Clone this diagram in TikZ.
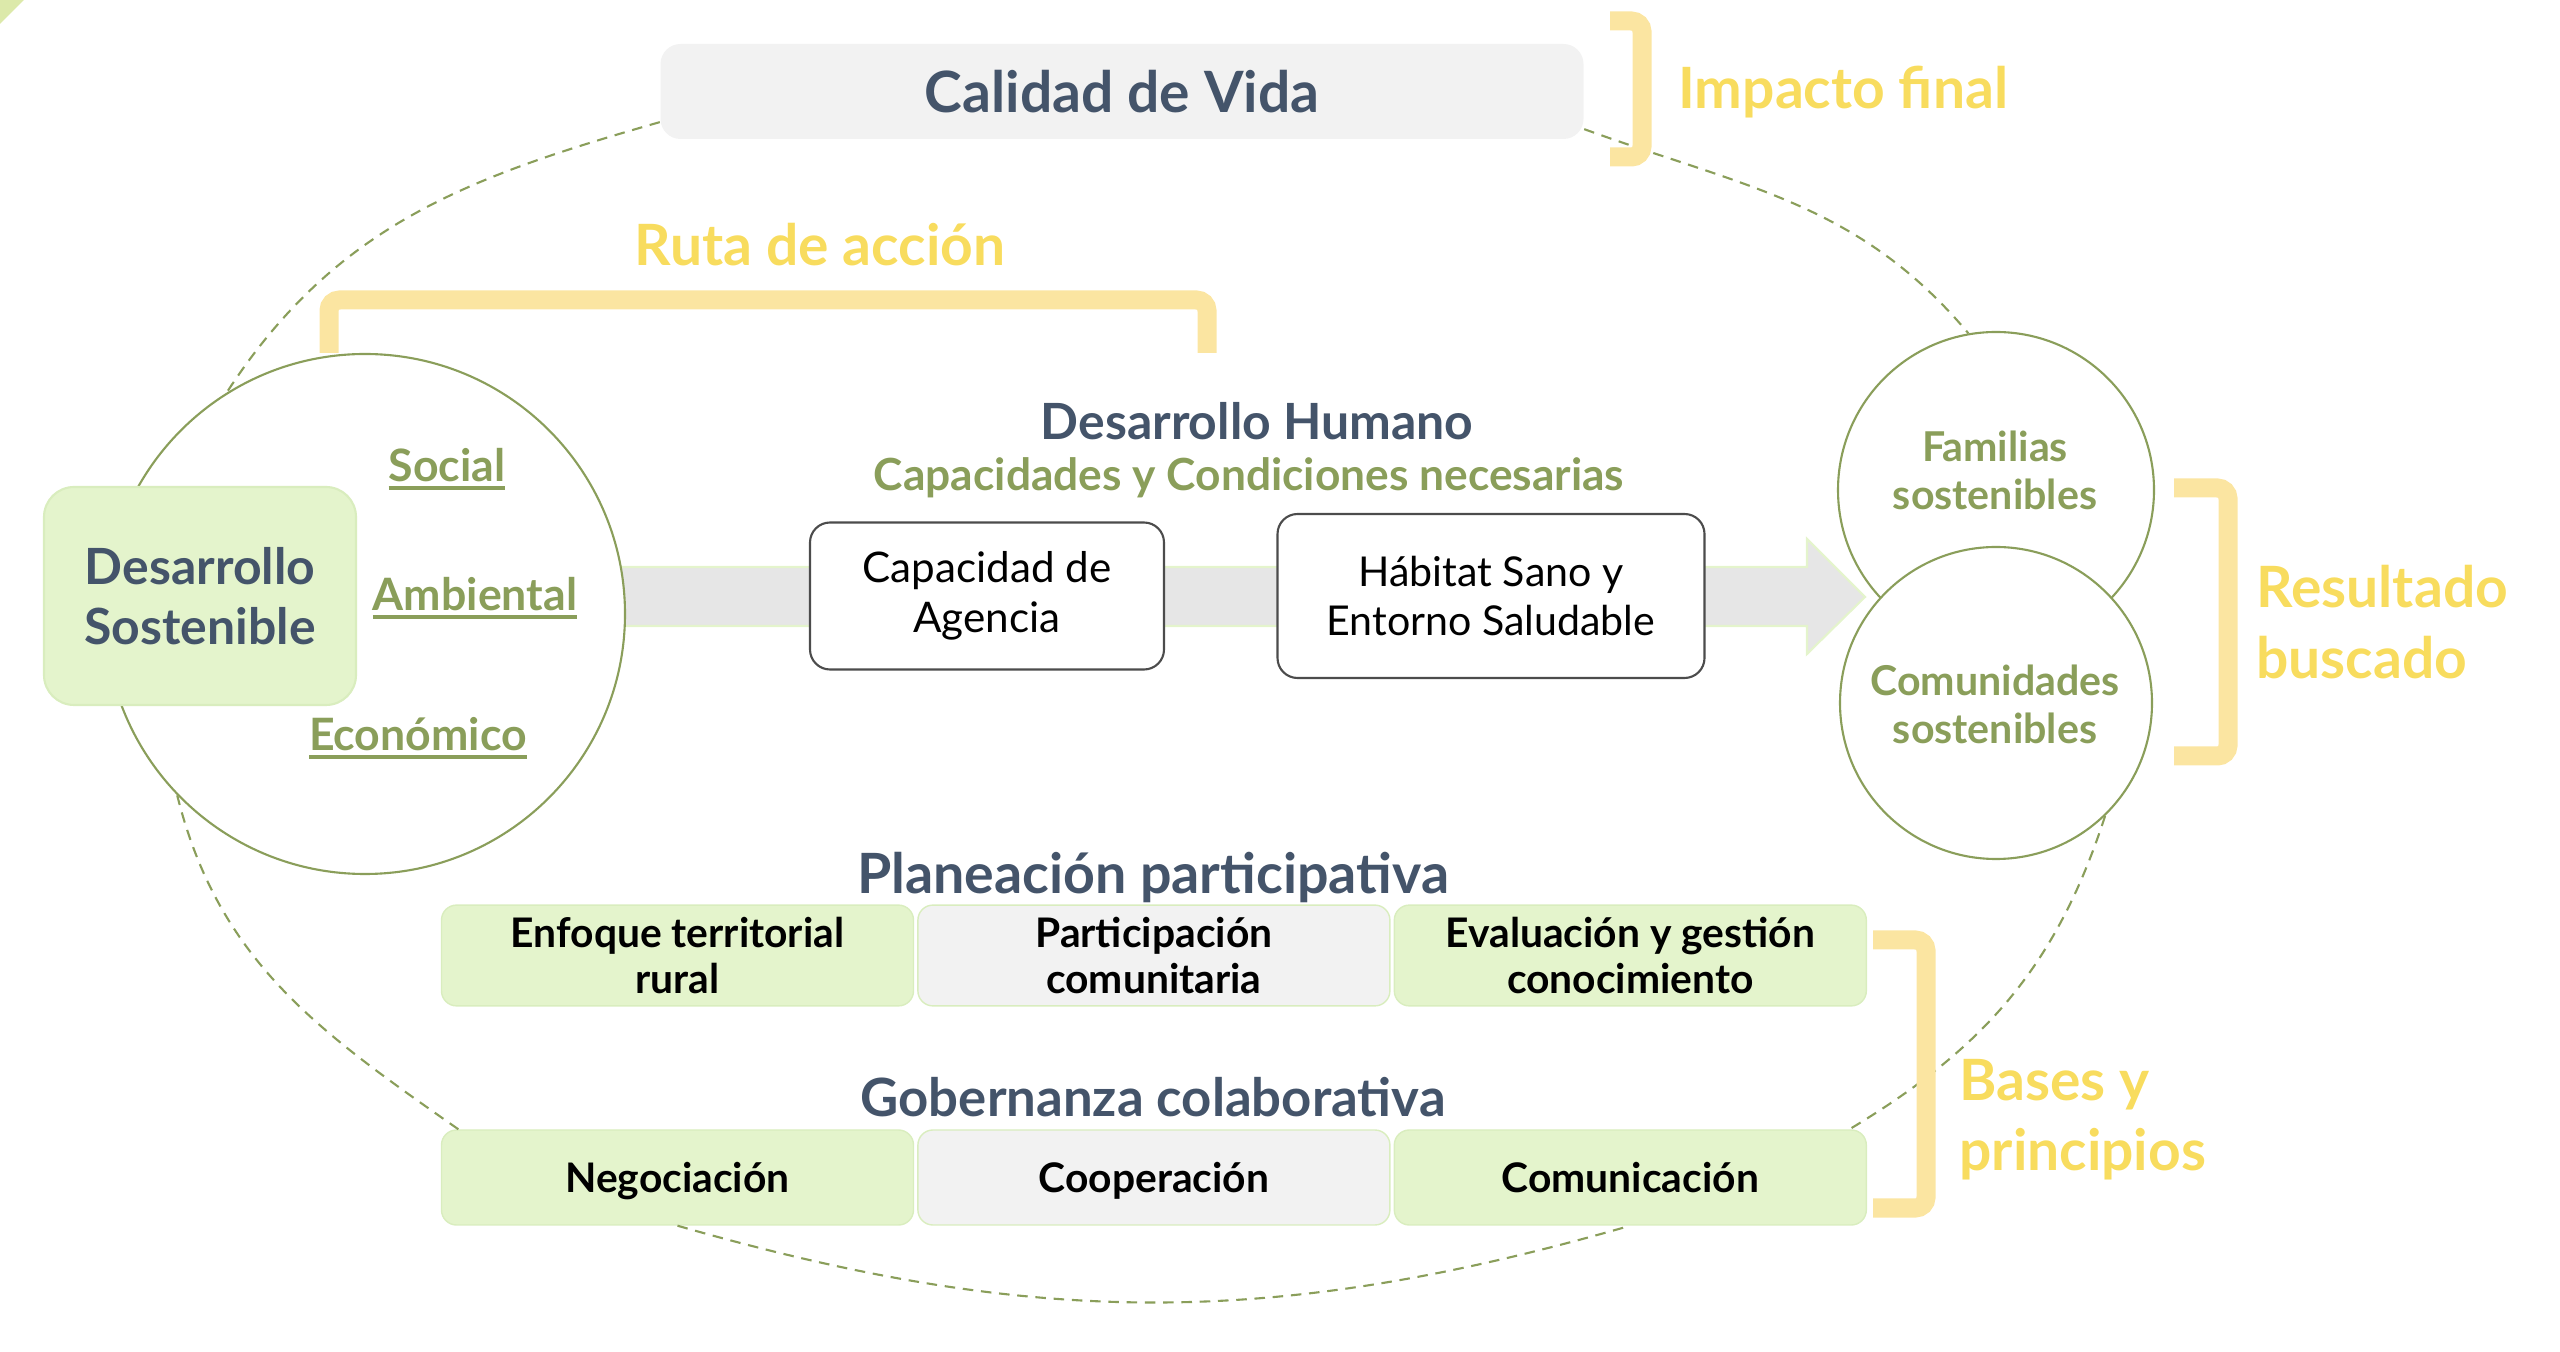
\documentclass[tikz,border=0pt]{standalone}
\usepackage{fontspec}
\setmainfont{Lato}
\usetikzlibrary{positioning}

\definecolor{slate}{HTML}{44546A}
\definecolor{olive}{HTML}{8A9E5A}
\definecolor{gold}{HTML}{F8DC5E}
\definecolor{goldlight}{HTML}{FBE5A1}
\definecolor{mint}{HTML}{E4F4CC}
\definecolor{mintline}{HTML}{D9EDBE}
\definecolor{softgray}{HTML}{F2F2F2}
\definecolor{bandgray}{HTML}{E6E6E6}
\definecolor{tipgreen}{HTML}{DCE9AA}

\newcommand{\ulin}[1]{\leavevmode\vtop{\hbox{#1}\kern1.3pt\hrule height 1.1pt}}

\tikzset{
  head_text/.style={font=\fontsize{15.8}{19}\selectfont\bfseries, text=slate},
  sub_text/.style={font=\fontsize{14.2}{17}\selectfont\bfseries, text=slate},
  gold_text/.style={font=\fontsize{16.2}{20}\selectfont\bfseries, text=gold, align=left},
  olive_text/.style={font=\fontsize{12.7}{15}\selectfont\bfseries, text=olive, align=center},
  bracket_line/.style={draw=goldlight, line width=0.19cm, rounded corners=3pt},
  ring_line/.style={draw=olive, line width=0.6pt, dash pattern=on 3pt off 2.2pt},
  green_circle/.style={circle, draw=olive, line width=0.6pt, fill=white, inner sep=0pt},
  action_box/.style={draw=black!70, line width=0.6pt, fill=white, rounded corners=0.2cm, align=center, font=\fontsize{12}{14.2}\selectfont},
  pillar/.style={draw=mintline, line width=0.4pt, rounded corners=0.15cm, minimum width=4.72cm, minimum height=0.95cm, align=center, font=\fontsize{11.6}{13.3}\selectfont\bfseries},
  single_pillar/.style={pillar, text height=0.95em, text depth=0.1em}
}

\begin{document}
\begin{tikzpicture}

        \useasboundingbox (0,0) rectangle (25.6,-13.52);
        \fill[tipgreen] (0,0) -- (0.24,0) -- (0,-0.24) -- cycle;

        % Arrow band behind the boxes
        \filldraw[fill=bandgray, draw=mint, line width=0.6pt] (6.0,-5.67) -- (18.07,-5.67) -- (18.07,-5.39) -- (18.65,-5.97) -- (18.07,-6.54) -- (18.07,-6.26) -- (6.0,-6.26) -- cycle;

        % Final impact
        \node[fill=softgray, rounded corners=0.2cm, minimum width=9.23cm, minimum height=0.95cm, head_text, font=\fontsize{16.2}{19}\selectfont\bfseries] (calidad_vida) at (11.22,-0.915) {Calidad de Vida};
        \node[gold_text, anchor=west] (impacto) at (16.66,-0.92) {Impacto final};

        % Sustainable development circle
        \node[green_circle, minimum size=5.2cm] (des_circle) at (3.65,-6.14) {};
        \node[fill=mint, draw=mintline, line width=0.6pt, rounded corners=0.3cm, minimum width=3.12cm, minimum height=2.18cm, align=center, font=\fontsize{14.2}{17}\selectfont\bfseries, text=slate] (des_sost) at (2.00,-5.96) {Desarrollo\\Sostenible};
        \node[olive_text] (social) at (4.47,-4.69) {\ulin{Social}};
        \node[olive_text] (ambiental) at (4.75,-5.98) {\ulin{Ambiental}};
        \node[olive_text] (economico) at (4.18,-7.38) {\ulin{Económico}};

        % Action route
        \node[gold_text] (ruta) at (8.20,-2.45) {Ruta de acción};
        \node[sub_text] (des_humano) at (12.57,-4.21) {Desarrollo Humano};
        \node[olive_text, font=\fontsize{12.6}{15}\selectfont\bfseries] (cap_cond) at (12.49,-4.78) {Capacidades y Condiciones necesarias};
        \node[action_box, minimum width=3.54cm, minimum height=1.47cm] (cap_agencia) at (9.87,-5.96) {Capacidad de\\Agencia};
        \node[action_box, minimum width=4.27cm, minimum height=1.64cm, font=\fontsize{11.7}{14.2}\selectfont] (habitat) at (14.91,-5.96) {Hábitat Sano y\\Entorno Saludable};

        % Expected result
        \node[green_circle, minimum size=3.16cm] (fam_circle) at (19.96,-4.90) {};
        \node[olive_text, font=\fontsize{11.7}{13.6}\selectfont\bfseries] (fam_sost) at (19.95,-4.70) {Familias\\sostenibles};
        \node[green_circle, minimum size=3.12cm] (com_circle) at (19.96,-7.03) {};
        \node[olive_text, font=\fontsize{11.7}{13.6}\selectfont\bfseries] (com_sost) at (19.95,-7.04) {Comunidades\\sostenibles};
        \node[gold_text, anchor=west] (resultado) at (22.44,-6.22) {Resultado\\buscado};

        % Bases and principles
        \node[head_text] (planeacion) at (11.53,-8.78) {Planeación participativa};
        \node[pillar, fill=mint] (enfoque) at (6.775,-9.555) {Enfoque territorial\\rural};
        \node[pillar, fill=softgray, right=0.03cm of enfoque] (participacion) {Participación\\comunitaria};
        \node[pillar, fill=mint, right=0.03cm of participacion] (evaluacion) {Evaluación y gestión\\conocimiento};

        \node[head_text, font=\fontsize{15}{19}\selectfont\bfseries] (gobernanza) at (11.53,-10.97) {Gobernanza colaborativa};
        \node[single_pillar, fill=mint] (negociacion) at (6.775,-11.775) {Negociación};
        \node[single_pillar, fill=softgray, right=0.03cm of negociacion] (cooperacion) {Cooperación};
        \node[single_pillar, fill=mint, right=0.03cm of cooperacion] (comunicacion) {Comunicación};
        \node[gold_text, anchor=west] (bases) at (19.47,-11.20) {Bases y\\principios};

        % Dashed ring between the blocks
        \draw[ring_line] ([yshift=5pt]calidad_vida.south west) to[out=196,in=57] (des_circle.122);
        \draw[ring_line] ([yshift=3pt]calidad_vida.south east) to[out=-20,in=130] (fam_circle.100);
        \draw[ring_line] (com_circle.-46) to[out=-108,in=31] ([xshift=-5pt]comunicacion.north east);
        \draw[ring_line] (negociacion.south) to[out=-16,in=196] (comunicacion.south);
        \draw[ring_line] ([xshift=5pt]negociacion.north west) to[out=145,in=-76] (des_circle.224);

        % Brackets
        \draw[bracket_line] (16.10,-0.21) -- (16.42,-0.21) -- (16.42,-1.57) -- (16.10,-1.57);
        \draw[bracket_line] (3.29,-3.53) -- (3.29,-3.00) -- (12.07,-3.00) -- (12.07,-3.53);
        \draw[bracket_line] (21.74,-4.88) -- (22.28,-4.88) -- (22.28,-7.56) -- (21.74,-7.56);
        \draw[bracket_line] (18.73,-9.40) -- (19.26,-9.40) -- (19.26,-12.08) -- (18.73,-12.08);

    \end{tikzpicture}
\end{document}
